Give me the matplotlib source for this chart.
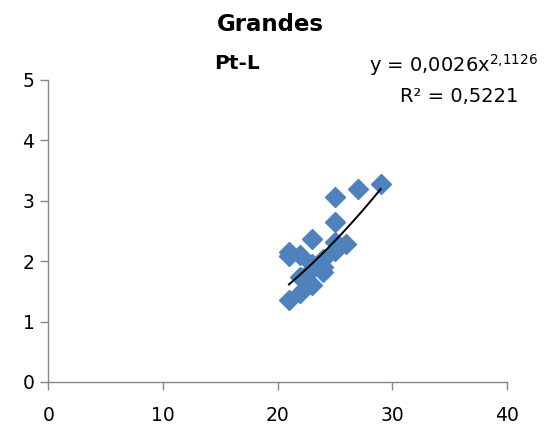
import matplotlib
matplotlib.use("Agg")
import matplotlib.pyplot as plt
import numpy as np

# Pt-L against size class "Grandes"
x_vals = [21, 21, 21, 22, 22, 22, 23, 23, 23, 23, 24, 24, 24, 25, 25, 25, 25, 26, 27, 29]
y_vals = [2.15, 2.08, 1.36, 1.48, 2.10, 1.74, 2.36, 1.60, 1.87, 1.95,
          1.82, 2.03, 1.90, 2.17, 2.31, 2.65, 3.07, 2.28, 3.19, 3.28]

# power trend line reported by the spreadsheet
COEF_A = 0.0026
COEF_B = 2.1126
R2 = 0.5221

BLUE = "#4F81BD"
AXIS_GREY = "#868686"

fig = plt.figure(figsize=(5.48, 4.41), dpi=100)
ax = fig.add_axes([0.0881, 0.1338, 0.8366, 0.6848])

ax.plot(x_vals, y_vals, linestyle="none", marker="D", markersize=10.5,
        color=BLUE, markeredgecolor=BLUE, zorder=2)

xt = np.linspace(min(x_vals), max(x_vals), 50)
ax.plot(xt, COEF_A * xt ** COEF_B, color="black", lw=1.4, zorder=3)

ax.set_xlim(0, 40)
ax.set_ylim(0, 5)
ax.set_xticks([0, 10, 20, 30, 40])
ax.set_yticks([0, 1, 2, 3, 4, 5])
for side in ("top", "right"):
    ax.spines[side].set_visible(False)
for side in ("left", "bottom"):
    ax.spines[side].set_color(AXIS_GREY)
    ax.spines[side].set_linewidth(1.0)
ax.tick_params(colors=AXIS_GREY, labelcolor="black", labelsize=13.5,
               length=6, width=1.0, direction="out")
ax.tick_params(axis="x", pad=11)
ax.tick_params(axis="y", pad=4)

fig.text(0.494, 0.945, "Grandes", ha="center", va="center",
         fontsize=16.5, fontweight="bold")
fig.text(0.432, 0.855, "Pt-L", ha="center", va="center",
         fontsize=14.5, fontweight="bold")
fig.text(0.828, 0.852, "y = 0,0026x$^{2{,}1126}$", ha="center", va="center",
         fontsize=14)
fig.text(0.838, 0.782, "R² = 0,5221", ha="center", va="center", fontsize=14)

fig.savefig("out.png", dpi=100)
